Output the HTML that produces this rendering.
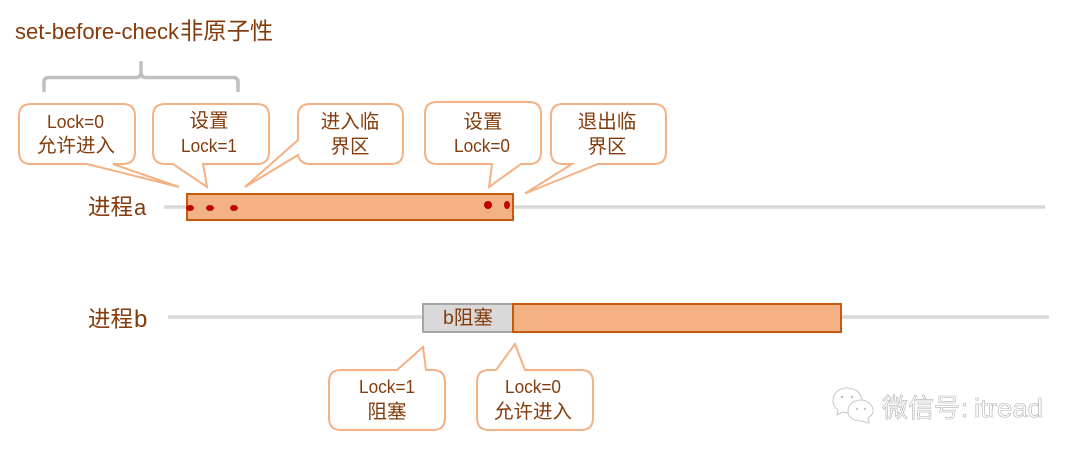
<!DOCTYPE html>
<html>
<head>
<meta charset="utf-8">
<style>
html,body{margin:0;padding:0;background:#fff;width:1078px;height:454px;overflow:hidden}
svg{display:block}
text{font-family:"Liberation Sans","Noto Sans CJK SC",sans-serif;fill:#843C0C}
.l{font-size:18px;text-anchor:middle}
.c{font-size:19.5px;text-anchor:middle}
.co{fill:#fff;stroke:#F4B183;stroke-width:2;stroke-linejoin:miter}
</style>
</head>
<body>
<svg width="1078" height="454" viewBox="0 0 1078 454" xmlns="http://www.w3.org/2000/svg">
<rect width="1078" height="454" fill="#fff"/>

<!-- title -->
<text x="15" y="39" font-size="22" textLength="164" lengthAdjust="spacingAndGlyphs">set-before-check</text>
<text x="180" y="39" font-size="23.3">非原子性</text>

<!-- brace -->
<path d="M44,92 V82 Q44,77.500 49,77.500 H136 Q141,77.500 141,72 V61 M141,72 Q141,77.500 146,77.500 H233 Q238,77.500 238,82 V92" fill="none" stroke="#BFBFBF" stroke-width="3.500"/>

<!-- timelines -->
<line x1="164" y1="207" x2="1045" y2="207" stroke="#D9D9D9" stroke-width="3.500"/>
<line x1="168" y1="317" x2="1049" y2="317" stroke="#D9D9D9" stroke-width="3.500"/>

<!-- bars -->
<rect x="187" y="194" width="326" height="26" fill="#F4B183" stroke="#C55A11" stroke-width="2"/>
<rect x="423" y="304" width="90" height="28" fill="#D9D9D9" stroke="#A6A6A6" stroke-width="2"/>
<rect x="513" y="304" width="328" height="28" fill="#F4B183" stroke="#C55A11" stroke-width="2"/>

<!-- dots -->
<g fill="#C00000">
<ellipse cx="190" cy="208" rx="4" ry="3"/>
<ellipse cx="210" cy="208" rx="4" ry="3"/>
<ellipse cx="234" cy="208" rx="4" ry="3"/>
<circle cx="488" cy="205" r="4"/>
<ellipse cx="507" cy="205" rx="3" ry="4"/>
</g>

<!-- callouts -->
<path class="co" d="M31,104 H123 Q135,104 135,116 V152 Q135,164 123,164 H113 L179,187 L87,164 H31 Q19,164 19,152 V116 Q19,104 31,104Z"/>
<path class="co" d="M165,104 H257 Q269,104 269,116 V152 Q269,164 257,164 H203 L207,187 L173,164 H165 Q153,164 153,152 V116 Q153,104 165,104Z"/>
<path class="co" d="M310,104 H391 Q403,104 403,116 V152 Q403,164 391,164 H310 Q300,164 298,155 L245,187 L298,140 V116 Q298,104 310,104Z"/>
<path class="co" d="M437,102 H529 Q541,102 541,114 V152 Q541,164 529,164 H521 L489,187 L492,164 H437 Q425,164 425,152 V114 Q425,102 437,102Z"/>
<path class="co" d="M563,104 H654 Q666,104 666,116 V152 Q666,164 654,164 H598 L525,193.500 L572,164 H563 Q551,164 551,152 V116 Q551,104 563,104Z"/>
<path class="co" d="M341,370 H397 L423,347 L426,370 H433 Q445,370 445,382 V418 Q445,430 433,430 H341 Q329,430 329,418 V382 Q329,370 341,370Z"/>
<path class="co" d="M489,370 H496 L515,344 L525,370 H581 Q593,370 593,382 V418 Q593,430 581,430 H489 Q477,430 477,418 V382 Q477,370 489,370Z"/>

<!-- callout labels -->
<text class="l" x="75.500" y="128" textLength="57" lengthAdjust="spacingAndGlyphs">Lock=0</text>
<text class="c" x="76" y="152">允许进入</text>
<text class="c" x="209" y="127">设置</text>
<text class="l" x="209" y="152" textLength="56" lengthAdjust="spacingAndGlyphs">Lock=1</text>
<text class="c" x="350" y="128">进入临</text>
<text class="c" x="350" y="153">界区</text>
<text class="c" x="483" y="128">设置</text>
<text class="l" x="482" y="152" textLength="56" lengthAdjust="spacingAndGlyphs">Lock=0</text>
<text class="c" x="607" y="128">退出临</text>
<text class="c" x="607" y="153">界区</text>
<text class="l" x="387" y="393" textLength="56" lengthAdjust="spacingAndGlyphs">Lock=1</text>
<text class="c" x="387" y="418">阻塞</text>
<text class="l" x="533" y="393" textLength="56" lengthAdjust="spacingAndGlyphs">Lock=0</text>
<text class="c" x="533" y="418">允许进入</text>

<!-- process labels -->
<text x="88" y="215" font-size="22.500">进程</text>
<text x="134" y="215" font-size="22">a</text>
<text x="88" y="327" font-size="22.500">进程</text>
<text x="134" y="327" font-size="24">b</text>
<text x="443" y="324" font-size="19.500">b阻塞</text>

<!-- watermark -->
<g fill="#fff" stroke="#C8C8C8" stroke-width="1">
<path d="M847,388 C838,388 833,394 833,401 C833,405 835,408 838,410 L837,415 L843,412 C846,413 849,413 852,413 C860,413 862,407 862,401 C862,394 856,388 847,388Z"/>
<path d="M861,400 C853,400 848,405 848,411 C848,417 853,421 861,421 L869,423 L868,418 C871,416 873,414 873,411 C873,405 868,400 861,400Z"/>
</g>
<g fill="#C8C8C8">
<circle cx="842" cy="397" r="1.300"/><circle cx="852" cy="397" r="1.300"/>
<circle cx="857" cy="409" r="1.200"/><circle cx="865" cy="409" r="1.200"/>
</g>
<text x="882" y="417" font-size="26" style="fill:#fff;stroke:#B0B0B0;stroke-width:.6">微信号</text>
<text x="961" y="417" font-size="26" style="fill:#fff;stroke:#B0B0B0;stroke-width:.6">:</text>
<text x="974" y="417" font-size="26" textLength="69" lengthAdjust="spacingAndGlyphs" style="fill:#fff;stroke:#B0B0B0;stroke-width:.6">itread</text>
</svg>
</body>
</html>
